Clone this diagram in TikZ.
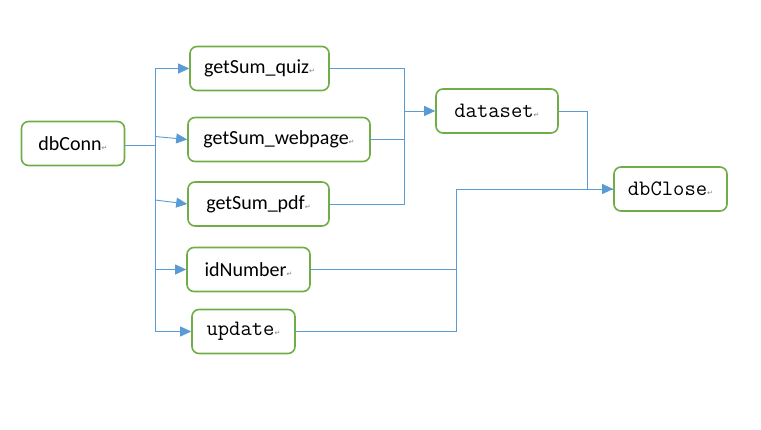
\documentclass[tikz,border=0pt]{standalone}
\usepackage{fontspec}
\setmainfont{Carlito}
\newfontfamily\markfont{DejaVu Sans}
\usepackage{xcolor}
\usetikzlibrary{arrows.meta}

\definecolor{boxgreen}{HTML}{70AD47}
\definecolor{lineblue}{HTML}{5B9BD5}
\newcommand{\pmark}{{\markfont\fontsize{7}{7}\selectfont\color{gray}↵}}

\tikzset{
  func/.style={draw=boxgreen, line width=1.6pt, rounded corners=7pt,
    minimum height=44pt, inner sep=0pt, font=\fontsize{20}{20}\selectfont},
  monofunc/.style={func, font=\ttfamily\fontsize{22}{22}\selectfont},
  link/.style={draw=lineblue, line width=0.9pt},
  flow/.style={link, -{Triangle[width=10pt,length=11pt]}}
}

\begin{document}
\begin{tikzpicture}[x=1pt,y=-1pt]
      % Frame
      \useasboundingbox (0,0) rectangle (761,430);

      % Modules
      \node[func, minimum width=103pt] (dbConn) at (73,143.5) {dbConn\pmark};
      \node[func, minimum width=139pt] (quiz) at (259.5,68.5) {getSum\_quiz\pmark};
      \node[func, minimum width=182pt] (webpage) at (279,139.5) {getSum\_webpage\pmark};
      \node[func, minimum width=141pt] (pdf) at (258.5,204) {getSum\_pdf\pmark};
      \node[func, minimum width=123pt] (idNumber) at (248.5,269.5) {idNumber\pmark};
      \node[monofunc, minimum width=103pt] (update) at (243.5,331.5) {update\pmark};
      \node[monofunc, minimum width=122pt] (dataset) at (497,111) {dataset\pmark};
      \node[monofunc, minimum width=113pt] (dbClose) at (670.5,189) {dbClose\pmark};

      % Branch points
      \coordinate (split) at (155,145);
      \coordinate (trunkTop) at (155,68.5);
      \coordinate (trunkBot) at (155,331.5);
      \coordinate (slantA) at (155,136.5);
      \coordinate (slantB) at (155,200);
      \coordinate (mergeTop) at (404,68.5);
      \coordinate (mergeBot) at (404,204);
      \coordinate (join) at (456,189);

      % dbConn to the modules
      \draw[link] (dbConn.east |- split) -- (split);
      \draw[link] (trunkTop) -- (trunkBot);
      \draw[flow] (trunkTop) -- (quiz.west);
      \draw[flow] (slantA) -- (webpage.west);
      \draw[flow] (slantB) -- (pdf.west);
      \draw[flow] (trunkTop |- idNumber.west) -- (idNumber.west);
      \draw[flow] (trunkBot) -- (update.west);

      % getSum modules to dataset
      \draw[link] (quiz.east) -- (mergeTop) -- (mergeBot) -- (pdf.east);
      \draw[link] (webpage.east) -- (webpage.east -| mergeTop);
      \draw[flow] (mergeTop |- dataset.west) -- (dataset.west);

      % into dbClose
      \draw[link] (dataset.east) -- ++(29,0) |- (dbClose.west);
      \draw[link] (idNumber.east) -- (idNumber.east -| join);
      \draw[link] (update.east) -| (join);
      \draw[flow] (join) -- (dbClose.west);

  \end{tikzpicture}
\end{document}
